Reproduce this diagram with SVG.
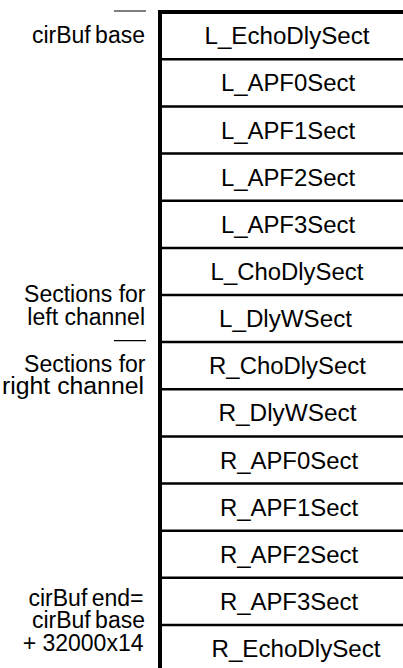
<svg xmlns="http://www.w3.org/2000/svg" width="403" height="668" viewBox="0 0 403 668">
  <style>
    text { font-family: "Liberation Sans", Arial, sans-serif; font-size: 23px; fill: #000; }
    .cell { text-anchor: middle; }
    .lbl { text-anchor: end; }
    .sep { stroke: #000; stroke-width: 2.5; fill: none; }
    .frame { stroke: #000; stroke-width: 4; fill: none; }
    .tick { stroke: #000; stroke-width: 1.2; fill: none; }
  </style>
  <rect width="403" height="668" fill="#fff"/>

  <!-- buffer outline: thick top and left edges -->
  <g id="frame">
    <path class="frame" d="M160 668 V12 H410"/>
  </g>

  <!-- section separators -->
  <g id="separators">
    <path class="sep" d="M162 59.3 H410 M162 106.4 H410 M162 153.6 H410 M162 200.7 H410 M162 247.9 H410 M162 295 H410 M162 342.1 H410 M162 389.3 H410 M162 436.4 H410 M162 483.6 H410 M162 530.7 H410 M162 577.8 H410 M162 625 H410"/>
  </g>

  <!-- section cells (slightly widened glyphs) -->
  <g id="L_EchoDlySect"><text class="cell" transform="translate(287 44.3) scale(1.05 1)">L_EchoDlySect</text></g>
  <g id="L_APF0Sect"><text class="cell" transform="translate(288 91.4) scale(1.04 1)">L_APF0Sect</text></g>
  <g id="L_APF1Sect"><text class="cell" transform="translate(288 138.6) scale(1.04 1)">L_APF1Sect</text></g>
  <g id="L_APF2Sect"><text class="cell" transform="translate(288 185.7) scale(1.04 1)">L_APF2Sect</text></g>
  <g id="L_APF3Sect"><text class="cell" transform="translate(288 232.9) scale(1.04 1)">L_APF3Sect</text></g>
  <g id="L_ChoDlySect"><text class="cell" transform="translate(287 280) scale(1.04 1)">L_ChoDlySect</text></g>
  <g id="L_DlyWSect"><text class="cell" transform="translate(285.5 327.1) scale(1.05 1)">L_DlyWSect</text></g>
  <g id="R_ChoDlySect"><text class="cell" transform="translate(287.5 374.3) scale(1.04 1)">R_ChoDlySect</text></g>
  <g id="R_DlyWSect"><text class="cell" transform="translate(287.5 421.4) scale(1.06 1)">R_DlyWSect</text></g>
  <g id="R_APF0Sect"><text class="cell" transform="translate(289 468.6) scale(1.04 1)">R_APF0Sect</text></g>
  <g id="R_APF1Sect"><text class="cell" transform="translate(289 515.7) scale(1.04 1)">R_APF1Sect</text></g>
  <g id="R_APF2Sect"><text class="cell" transform="translate(289 562.8) scale(1.04 1)">R_APF2Sect</text></g>
  <g id="R_APF3Sect"><text class="cell" transform="translate(289 610) scale(1.04 1)">R_APF3Sect</text></g>
  <g id="R_EchoDlySect"><text class="cell" transform="translate(296 657.1) scale(1.05 1)">R_EchoDlySect</text></g>

  <!-- side annotations -->
  <g id="annotations">
    <path class="tick" d="M114 11 H146 M114 340.7 H146"/>
    <text class="lbl" x="145" y="43" word-spacing="-2">cirBuf base</text>
    <text class="lbl" x="145.5" y="302">Sections for</text>
    <text class="lbl" x="145" y="325">left channel</text>
    <text class="lbl" x="145.5" y="371.5">Sections for</text>
    <text class="lbl" x="144" y="394" textLength="142" lengthAdjust="spacingAndGlyphs">right channel</text>
    <text class="lbl" x="143.5" y="605.5" word-spacing="-2">cirBuf end=</text>
    <text class="lbl" x="145" y="627.5" word-spacing="-2">cirBuf base</text>
    <text class="lbl" x="143.5" y="650.5">+ 32000x14</text>
  </g>
</svg>
